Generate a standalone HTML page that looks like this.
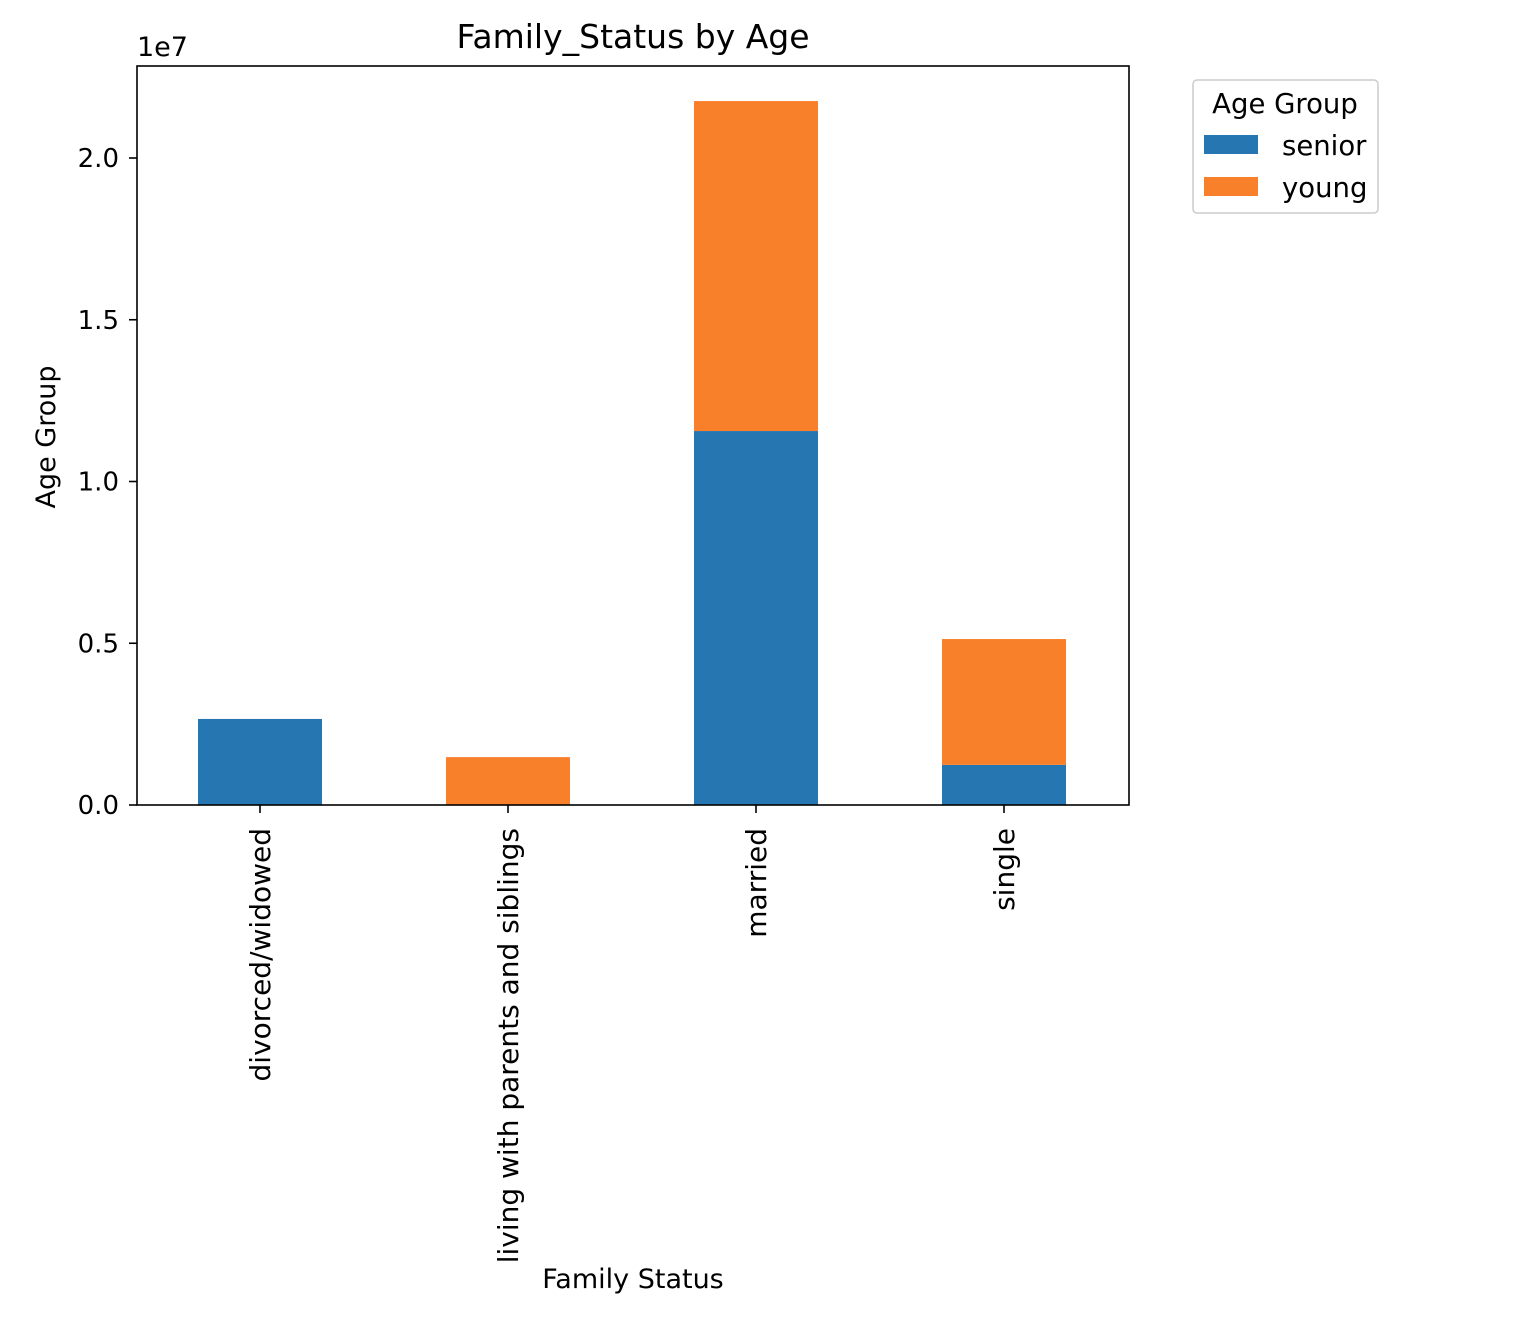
<!DOCTYPE html>
<html><head><meta charset="utf-8"><style>
body{margin:0;background:#fff;}
svg text{font-family:"DejaVu Sans","Liberation Sans",sans-serif;fill:#000;}
</style></head><body>
<svg id="chart" width="1514" height="1318" viewBox="0 0 1514 1318" xmlns="http://www.w3.org/2000/svg">
<text x="633" y="48" font-size="33" text-anchor="middle">Family_Status by Age</text>
<text x="137" y="56" font-size="27">1e7</text>
<g id="bars"></g>
<rect x="137" y="66" width="992" height="739" fill="none" stroke="#000" stroke-width="1.6"/>
<g id="yticks"></g>
<g id="xticks"></g>
<text transform="translate(55,437) rotate(-90)" font-size="27" text-anchor="middle">Age Group</text>
<text x="633" y="1288" font-size="27" text-anchor="middle">Family Status</text>
<g>
<rect x="1193" y="80" width="185" height="133" rx="4" fill="#fff" stroke="#ccc" stroke-width="1.5"/>
<text x="1285" y="113" font-size="27.5" text-anchor="middle">Age Group</text>
<rect x="1204" y="135" width="54" height="19" fill="#2677b1"/>
<text x="1282" y="155" font-size="27.5">senior</text>
<rect x="1204" y="177" width="54" height="19" fill="#f9802a"/>
<text x="1282" y="197" font-size="27.5">young</text>
</g>
</svg>
<script>
const categories=["divorced/widowed","living with parents and siblings","married","single"];
const senior=[2660000,0,11560000,1240000];
const young=[0,1480000,10200000,3890000];
const yTicks=[0,5000000,10000000,15000000,20000000];
const yTickLabels=["0.0","0.5","1.0","1.5","2.0"];
const NS="http://www.w3.org/2000/svg";
const y0=805,pxPer=323.5/1e7;
const y=v=>y0-v*pxPer;
const x=i=>260+i*248;
const bw=124;
function mk(tag,attrs,parent){const e=document.createElementNS(NS,tag);for(const k in attrs)e.setAttribute(k,attrs[k]);parent.appendChild(e);return e;}
const bars=document.getElementById('bars');
categories.forEach((c,i)=>{
  if(senior[i]>0){const r=mk('rect',{x:x(i)-bw/2,y:y(senior[i]),width:bw,height:y0-y(senior[i]),fill:'#2677b1'},bars);
  
  }
  if(young[i]>0){const t=senior[i]+young[i];const r=mk('rect',{x:x(i)-bw/2,y:y(t),width:bw,height:y(senior[i])-y(t),fill:'#f9802a'},bars);
  
  }
});
const yt=document.getElementById('yticks');
yTicks.forEach((v,i)=>{
  const l=mk('line',{x1:129,x2:137,y1:y(v),y2:y(v),stroke:'#000','stroke-width':1.6},yt);
  
  
  const t=mk('text',{x:119,y:y(v)+9,'font-size':26,'text-anchor':'end'},yt);
  t.textContent=yTickLabels[i];
  
  
});
const xt=document.getElementById('xticks');
categories.forEach((c,i)=>{
  const l=mk('line',{x1:x(i),x2:x(i),y1:805,y2:813,stroke:'#000','stroke-width':1.6},xt);
  
  
  const t=mk('text',{transform:`translate(${x(i)+10},828) rotate(-90)`,'font-size':28,'text-anchor':'end'},xt);
  t.textContent=c;
  
  
});
</script>
</body></html>
